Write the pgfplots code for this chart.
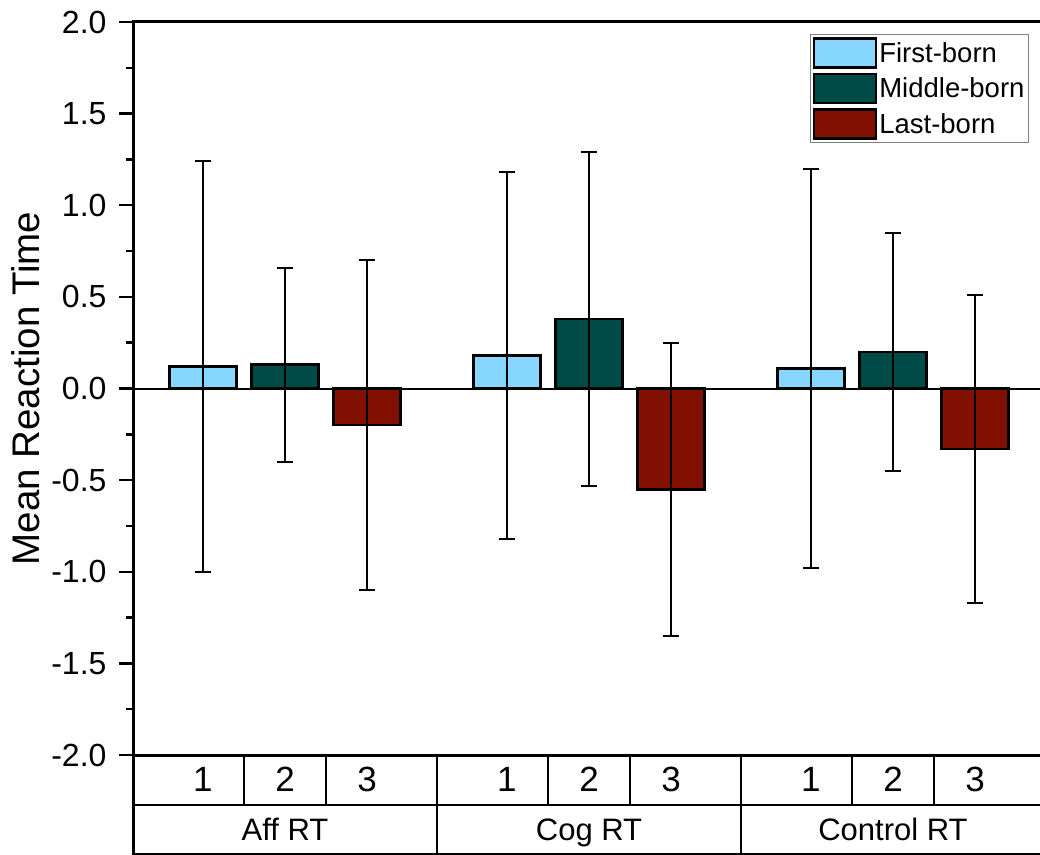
\documentclass[border=0pt]{standalone}
\usepackage{fontspec}
\setmainfont{Liberation Sans}
\usepackage{pgfplots}
\pgfplotsset{compat=1.18}
\usepackage{pgfplotstable}
\definecolor{cFirst}{RGB}{135,214,255}
\definecolor{cMid}{RGB}{0,75,72}
\definecolor{cLast}{RGB}{130,16,0}

\pgfplotstableread{
x y e
0.23 0.12 1.12
1.23 0.18 1.00
2.23 0.11 1.09
}\tblfirst
\pgfplotstableread{
x y e
0.50 0.13 0.53
1.50 0.38 0.91
2.50 0.20 0.65
}\tblmid
\pgfplotstableread{
x y e
0.77 -0.20 0.90
1.77 -0.55 0.80
2.77 -0.33 0.84
}\tbllast

\pgfplotsset{
  mybar/.style={ybar, bar width=67pt, bar shift=0pt, draw=black, line width=2.5pt,
    error bars/y dir=both, error bars/y explicit,
    error bars/error bar style={line width=2pt, black},
    error bars/error mark options={line width=2pt, black, mark size=8pt, rotate=90}},
  patch/.style={legend image code/.code={\draw[fill=#1, draw=black, line width=2.5pt] (0pt,-14.5pt) rectangle (62pt,14.5pt);}}
}

\begin{document}
\begin{tikzpicture}[x=1pt,y=1pt]
\useasboundingbox (0,0) rectangle (1040,854);
\clip (0,0) rectangle (1040,854);
\begin{axis}[
  at={(133pt,99pt)}, anchor=south west,
  scale only axis, width=912pt, height=733pt,
  xmin=0, xmax=3, ymin=-2, ymax=2,
  clip=false,
  axis line style={line width=3pt},
  ytick={-2,-1.5,-1,-0.5,0,0.5,1,1.5,2},
  yticklabels={-2.0,-1.5,-1.0,-0.5,0.0,0.5,1.0,1.5,2.0},
  minor y tick num=1,
  ytick pos=left,
  ytick align=outside,
  major tick length=14pt, minor tick length=7pt,
  y tick style={line width=2.5pt, black},
  yticklabel style={font=\fontsize{32}{32}\selectfont, xshift=-9pt},
  xtick={0.23,0.5,0.77,1.23,1.5,1.77,2.23,2.5,2.77},
  xticklabels={1,2,3,1,2,3,1,2,3},
  x tick style={draw=none},
  xticklabel style={font=\fontsize{35}{35}\selectfont, anchor=base, yshift=-36pt},
  extra x ticks={0.5,1.5,2.5},
  extra x tick labels={Aff RT,Cog RT,Control RT},
  extra x tick style={xticklabel style={font=\fontsize{31}{31}\selectfont, anchor=base, yshift=-49pt}},
  ylabel={Mean Reaction Time},
  every axis y label/.style={at={(axis description cs:-0.118,0.5)}, rotate=90, anchor=center, font=\fontsize{38.5}{38.5}\selectfont},
  legend style={at={(axis description cs:1,1)}, xshift=-16pt, yshift=-12pt, anchor=north east,
    draw=gray, line width=1pt, font=\fontsize{27.5}{30}\selectfont,
    inner xsep=2pt, inner ysep=3pt, row sep=4pt,
    nodes={inner sep=2pt}},
  legend cell align=left,
]
\addplot[black, line width=2pt, forget plot] coordinates {(0,0) (3,0)};
\addplot[mybar, fill=cFirst, patch=cFirst] table[x=x, y=y, y error=e]{\tblfirst};
\addlegendentry{First-born}
\addplot[mybar, fill=cMid, patch=cMid] table[x=x, y=y, y error=e]{\tblmid};
\addlegendentry{Middle-born}
\addplot[mybar, fill=cLast, patch=cLast] table[x=x, y=y, y error=e]{\tbllast};
\addlegendentry{Last-born}

\draw[line width=3pt] (axis cs:0,-2) -- ([yshift=-100pt]axis cs:0,-2);
\draw[line width=2.5pt] ([yshift=-50pt]axis cs:0,-2) -- ([yshift=-50pt]axis cs:3,-2);
\draw[line width=2.5pt] ([yshift=-99pt]axis cs:0,-2) -- ([yshift=-99pt]axis cs:3,-2);
\draw[line width=2.5pt] (axis cs:1,-2) -- ([yshift=-100pt]axis cs:1,-2);
\draw[line width=2.5pt] (axis cs:2,-2) -- ([yshift=-100pt]axis cs:2,-2);
\draw[line width=2pt] (axis cs:0.365,-2) -- ([yshift=-50pt]axis cs:0.365,-2);
\draw[line width=2pt] (axis cs:0.635,-2) -- ([yshift=-50pt]axis cs:0.635,-2);
\draw[line width=2pt] (axis cs:1.365,-2) -- ([yshift=-50pt]axis cs:1.365,-2);
\draw[line width=2pt] (axis cs:1.635,-2) -- ([yshift=-50pt]axis cs:1.635,-2);
\draw[line width=2pt] (axis cs:2.365,-2) -- ([yshift=-50pt]axis cs:2.365,-2);
\draw[line width=2pt] (axis cs:2.635,-2) -- ([yshift=-50pt]axis cs:2.635,-2);
\end{axis}
\end{tikzpicture}
\end{document}
